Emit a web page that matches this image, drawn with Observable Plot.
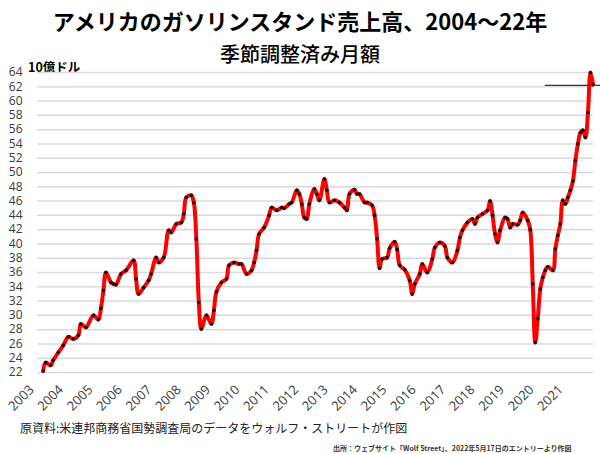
<!DOCTYPE html>
<html>
<head>
<meta charset="utf-8">
<script src="https://cdn.jsdelivr.net/npm/d3@7"></script>
<script src="https://cdn.jsdelivr.net/npm/@observablehq/plot@0.6"></script>
<style>
  html, body { margin: 0; padding: 0; background: #fff; }
  body { width: 600px; height: 454px; position: relative; overflow: hidden; font-family: "Noto Sans CJK JP", sans-serif; }
  .abs { position: absolute; white-space: nowrap; }
  #title { left: 0; width: 600px; top: 6px; text-align: center; font-size: 22px; font-weight: bold; line-height: 28px; color: #000; }
  #subtitle { left: 0; width: 600px; top: 41px; text-align: center; font-size: 20px; font-weight: 500; line-height: 26px; color: #000; }
  #unit { left: 28px; top: 59px; font-size: 12.5px; font-weight: bold; line-height: 16px; color: #000; }
  #chart { position: absolute; left: 0; top: 56px; }
  #caption { left: 20px; top: 419px; font-size: 12px; line-height: 18px; color: #222; }
  #source { left: 333px; top: 443px; font-size: 7px; font-weight: bold; line-height: 10px; color: #333; }
</style>
</head>
<body>
<div id="title" class="abs">アメリカのガソリンスタンド売上高、2004～22年</div>
<div id="subtitle" class="abs">季節調整済み月額</div>
<div id="unit" class="abs">10億ドル</div>
<div id="chart"></div>
<div id="caption" class="abs">原資料:米連邦商務省国勢調査局のデータをウォルフ・ストリートが作図</div>
<div id="source" class="abs">出所：ウェブサイト「Wolf Street」、2022年5月17日のエントリーより作図</div>
<script>
// months since the first observation
const monthIndex = [0,1,3,4,6,8,10,12,14,15,17,20,22,23,24,25,27,28,29,31,33,36,37,38,40,42,43,45,46,48,50,51,53,55,56,57,59,60,61,62,63,65,67,68,69,71,73,74,76,78,79,81,83,84,85,86,88,90,91,93,95,96,98,99,101,102,103,104,105,106,108,109,110,112,113,114,116,118,120,121,122,124,125,126,128,129,131,132,133,134,135,137,138,140,141,142,144,146,147,148,150,151,153,155,156,158,160,161,163,165,166,167,169,171,172,173,175,177,178,179,180,181,182,184,185,186,187,189,190,191,193,194,195,196,197,198,199,200,201,203,204,205,206,207,208,209,210,211,212,213,214,215,216,217,218,219];
// sales, billions of dollars
const sales = [22.2,23.4,23.0,23.7,24.8,25.8,27.0,26.7,27.2,28.8,28.3,30.0,29.4,31.0,33.5,36.0,34.6,34.4,34.3,35.8,36.3,37.7,35.1,33.0,33.9,34.9,35.8,38.1,37.4,38.1,41.9,41.6,42.8,43.0,44.2,46.5,46.8,45.8,40.7,31.8,28.1,30.0,28.8,30.7,33.3,34.6,35.1,37.0,37.4,37.2,37.2,35.8,36.3,37.4,39.1,41.4,42.3,44.0,45.1,44.7,45.1,45.0,45.6,45.8,47.5,47.0,45.6,43.7,43.5,45.6,47.7,47.0,46.1,49.1,47.5,45.8,46.1,45.8,45.1,44.7,47.0,47.6,47.0,47.0,45.8,45.8,45.4,44.0,40.7,36.6,37.9,38.1,39.4,40.3,39.2,37.0,36.4,34.9,33.0,34.4,35.8,37.2,36.0,37.9,39.5,40.2,39.7,38.1,37.4,39.1,40.9,41.9,43.0,43.5,42.8,43.7,44.2,44.7,46.0,44.0,41.4,40.2,41.9,43.7,43.5,42.3,42.8,42.7,43.3,44.4,43.3,42.0,34.4,26.2,29.5,33.7,35.3,36.3,36.8,36.3,39.3,41.2,42.8,46.1,45.6,46.5,47.5,48.8,51.7,54.0,55.6,55.9,54.9,58.4,64.0,62.3];
const yTicks = [22,24,26,28,30,32,34,36,38,40,42,44,46,48,50,52,54,56,58,60,62,64];
const yearLabels = ["2003","2004","2005","2006","2007","2008","2009","2010","2011","2012","2013","2014","2015","2016","2017","2018","2019","2020","2021"];
// annotation line (level and month span)
const refLevel = [62.2];
const refFrom = [200];
const refTo = [222];

const firstTick = -3.4, tickStep = 11.71;
const xTicks = yearLabels.map((label, i) => ({t: firstTick + i * tickStep, label}));

const data = monthIndex.map((m, i) => ({m, v: sales[i]}));
const ref = refLevel.map((v, i) => ({v, x1: refFrom[i], x2: refTo[i]}));

const chart = Plot.plot({
  width: 600,
  height: 362,
  marginLeft: 37,
  marginRight: 7,
  marginTop: 16,
  marginBottom: 46,
  style: {fontFamily: "'Open Sans', sans-serif", background: "transparent", overflow: "visible"},
  x: {domain: [-2.27, 219.2], axis: null},
  y: {domain: [22, 64], axis: null},
  marks: [
    Plot.gridY(yTicks, {stroke: "#d9d9d9", strokeOpacity: 1, strokeWidth: 1.5}),
    Plot.axisY(yTicks, {tickSize: 0, tickPadding: 15, fontSize: 12, fill: "#3a3a3a", label: null, tickFormat: d => String(d)}),
    Plot.text(xTicks, {x: "t", text: "label", frameAnchor: "bottom", dy: 18, rotate: -45, textAnchor: "end", fontSize: 13, fill: "#3a3a3a"}),
    Plot.line(data, {x: "m", y: "v", stroke: "#ff0000", strokeWidth: 4, curve: "catmull-rom"}),
    Plot.dot(data, {x: "m", y: "v", r: 1.8, fill: "#111"}),
    Plot.ruleY(ref, {y: "v", x1: "x1", x2: "x2", stroke: "#333", strokeWidth: 1.3})
  ]
});
document.getElementById("chart").appendChild(chart);
</script>
</body>
</html>
